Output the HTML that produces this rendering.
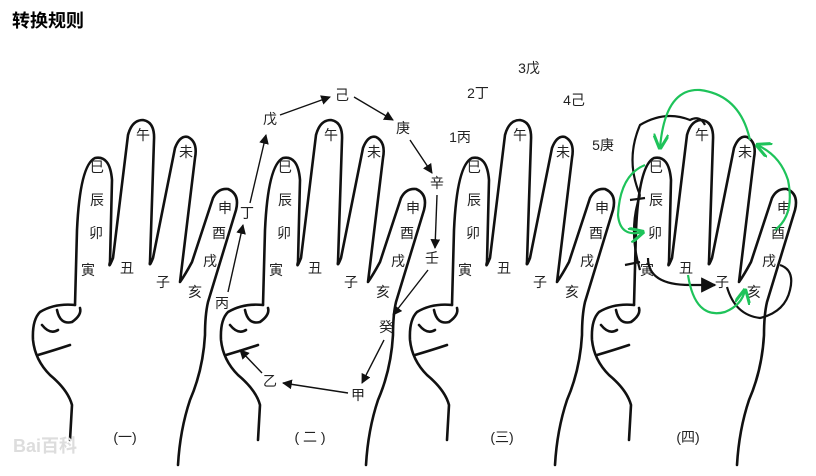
<!DOCTYPE html>
<html><head><meta charset="utf-8"><style>
html,body{margin:0;padding:0;background:#fff;width:816px;height:476px;overflow:hidden}
svg{display:block}
text{font-family:"Liberation Sans","Noto Sans CJK SC",sans-serif;font-size:14px;fill:#222;text-anchor:middle}
</style></head><body>
<svg width="816" height="476" viewBox="0 0 816 476">
<defs>
<g id="hand" fill="none" stroke="#111" stroke-width="2.6" stroke-linecap="round" stroke-linejoin="round">
<path d="M75,305 L77,230 Q80,165 95,158 Q110,155 112,180 L110,262 Q108,270 113,258 L128,135 Q132,120 143,120 Q155,122 154,140 L150,262 Q149,268 153,258 L175,148 Q180,135 188,137 Q198,142 195,158 L180,282 Q185,275 192,262 L213,198 Q218,188 228,189 Q240,194 236,210 L208,302 Q205,315 205,335 Q203,370 190,400 Q180,430 178,465"/>
<path d="M75,305 Q55,303 40,312 Q32,320 33,340 Q35,360 50,375 Q68,390 72,405 L70,440"/>
<path d="M57,310 Q60,325 72,322 Q82,315 80,308"/>
<path d="M42,325 Q50,335 58,330 M38,355 Q55,350 70,345"/>
</g>
<marker id="ah" viewBox="0 0 10 10" refX="9" refY="5" markerWidth="7" markerHeight="7" orient="auto"><path d="M0,0 L10,5 L0,10 z" fill="#111"/></marker>
<marker id="gh" viewBox="0 0 10 10" refX="9" refY="5" markerWidth="7" markerHeight="7" orient="auto"><path d="M0,0 L10,5 L0,10" fill="none" stroke="#1ec35a" stroke-width="2"/></marker>
</defs>
<text x="12" y="27" style="font-size:18px;font-weight:bold;text-anchor:start;fill:#000">转换规则</text>

<use href="#hand"/>
<use href="#hand" transform="translate(188,0)"/>
<use href="#hand" transform="translate(377,0)"/>
<use href="#hand" transform="translate(559,0)"/>

<g id="labels1">
<text x="97" y="172">巳</text><text x="97" y="205">辰</text><text x="96" y="238">卯</text><text x="88" y="275">寅</text>
<text x="143" y="140">午</text><text x="186" y="157">未</text><text x="225" y="213">申</text><text x="219" y="238">酉</text>
<text x="210" y="266">戌</text><text x="195" y="297">亥</text><text x="163" y="287">子</text><text x="127" y="273">丑</text>
</g>
<use href="#labels1" transform="translate(188,0)"/>
<use href="#labels1" transform="translate(377,0)"/>
<use href="#labels1" transform="translate(559,0)"/>

<g>
<text x="222" y="308">丙</text><text x="247" y="218">丁</text><text x="270" y="124">戊</text><text x="342" y="100">己</text>
<text x="403" y="133">庚</text><text x="437" y="188">辛</text><text x="432" y="263">壬</text><text x="386" y="332">癸</text>
<text x="358" y="400">甲</text><text x="270" y="386">乙</text>
</g>
<g stroke="#111" stroke-width="1.4" fill="none" marker-end="url(#ah)">
<path d="M228,292 L243,225"/><path d="M250,203 L266,135"/><path d="M280,115 L330,97"/>
<path d="M354,97 L393,120"/><path d="M410,140 L432,173"/><path d="M437,195 L435,248"/>
<path d="M428,270 L393,315"/><path d="M384,340 L362,383"/><path d="M348,393 L283,383"/><path d="M262,373 L240,350"/>
</g>
<g>
<text x="460" y="142">1丙</text><text x="478" y="98">2丁</text><text x="529" y="73">3戊</text><text x="574" y="105">4己</text><text x="603" y="150">5庚</text>
</g>
<g stroke="#111" stroke-width="2.2" fill="none">
<path d="M640,195 Q625,160 640,125 Q665,110 690,120 Q700,115 705,125"/>
<path d="M640,195 Q628,230 640,270"/>
<path d="M648,258 Q648,285 690,285 L715,285" marker-end="url(#ah)"/>
<path d="M727,287 Q735,315 760,318 Q785,312 790,290 Q795,270 780,265"/>
<path d="M625,265 L640,262 M630,200 L645,198"/>
</g>
<g stroke="#1ec35a" stroke-width="2.2" fill="none">
<path d="M750,140 Q740,95 700,90 Q665,88 660,148" marker-end="url(#gh)"/>
<path d="M645,165 Q620,175 618,215 Q620,238 643,232" marker-end="url(#gh)"/>
<path d="M688,275 Q695,320 725,312 Q742,305 745,290" marker-end="url(#gh)"/>
<path d="M775,230 Q795,215 788,180 Q780,155 757,145" marker-end="url(#gh)"/>
</g>

<g>
<text x="125" y="442">(一)</text><text x="310" y="442">( 二 )</text><text x="502" y="442">(三)</text><text x="688" y="442">(四)</text>
</g>
<text x="45" y="452" style="fill:#ddd;font-size:18px;font-weight:bold">Bai百科</text>
</svg>
</body></html>
